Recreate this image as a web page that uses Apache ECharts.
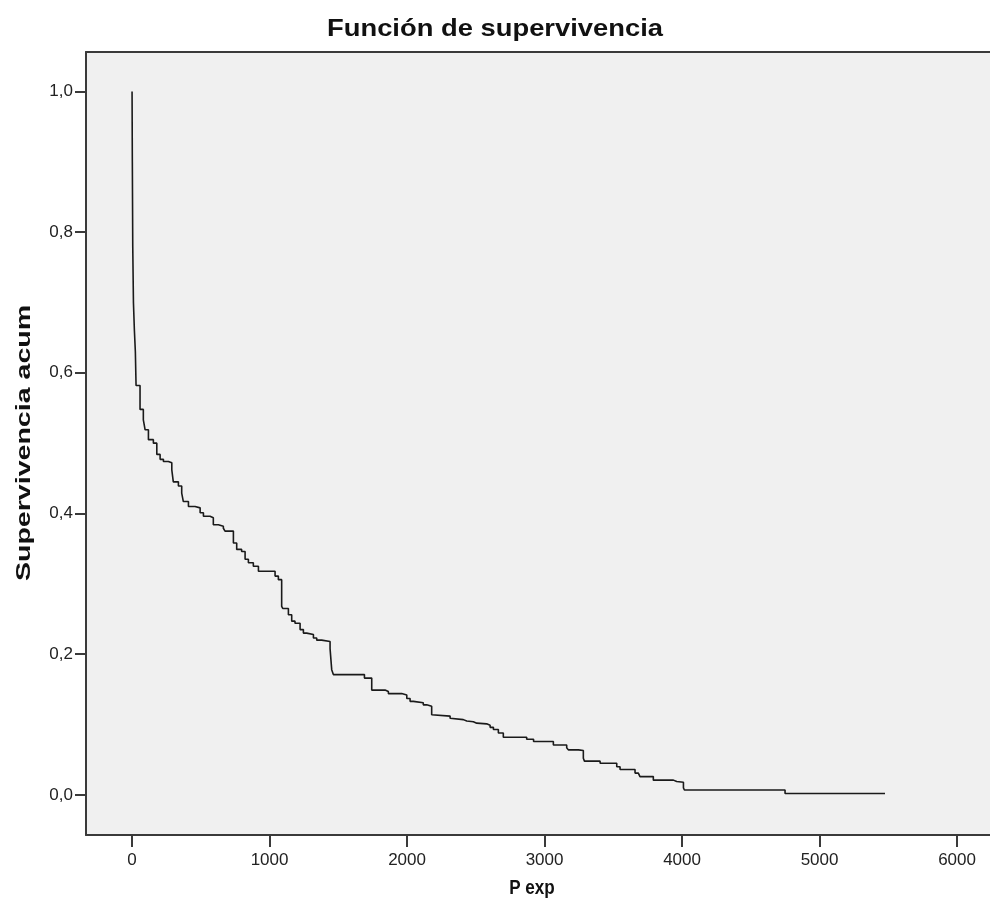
<!DOCTYPE html>
<html>
<head>
<meta charset="utf-8">
<script src="https://cdn.jsdelivr.net/npm/echarts@6/dist/echarts.min.js"></script>
<style>
html,body{margin:0;padding:0;background:#fff;}
#c{width:990px;height:920px;}
</style>
</head>
<body>
<div id="c"></div>
<script>
const titleText = 'Función de supervivencia';
const xName = 'P exp';
const yName = 'Supervivencia acum';
const xTicks = [0, 1000, 2000, 3000, 4000, 5000, 6000];
const yTicks = [0, 0.2, 0.4, 0.6, 0.8, 1.0];
const times = [0, 2, 5, 10, 17, 24, 29, 58, 82, 95, 119, 155, 180, 204, 228, 264, 289, 300, 337, 361, 373, 410, 458, 495, 519, 567, 591, 628, 664, 676, 737, 761, 797, 822, 846, 882, 919, 1040, 1064, 1088, 1096, 1137, 1161, 1185, 1222, 1246, 1270, 1319, 1343, 1379, 1440, 1452, 1464, 1690, 1743, 1840, 1864, 1961, 1998, 2022, 2046, 2118, 2143, 2179, 2191, 2313, 2325, 2409, 2434, 2482, 2507, 2579, 2604, 2628, 2664, 2700, 2870, 2920, 3064, 3161, 3173, 3246, 3282, 3290, 3404, 3525, 3549, 3658, 3682, 3694, 3791, 3937, 3961, 4010, 4017, 4749, 5076, 5476];
const surv = [1.0, 0.90, 0.78, 0.70, 0.66, 0.63, 0.582, 0.548, 0.533, 0.519, 0.505, 0.500, 0.484, 0.477, 0.474, 0.472, 0.462, 0.445, 0.439, 0.429, 0.417, 0.410, 0.408, 0.401, 0.396, 0.394, 0.384, 0.382, 0.379, 0.375, 0.358, 0.349, 0.346, 0.335, 0.330, 0.325, 0.318, 0.311, 0.306, 0.268, 0.265, 0.256, 0.247, 0.244, 0.235, 0.230, 0.228, 0.223, 0.220, 0.218, 0.208, 0.178, 0.171, 0.166, 0.149, 0.147, 0.144, 0.142, 0.137, 0.133, 0.131, 0.128, 0.126, 0.114, 0.112, 0.109, 0.107, 0.105, 0.104, 0.102, 0.101, 0.099, 0.096, 0.093, 0.088, 0.082, 0.079, 0.076, 0.071, 0.067, 0.064, 0.063, 0.052, 0.048, 0.045, 0.040, 0.036, 0.031, 0.029, 0.026, 0.021, 0.019, 0.018, 0.010, 0.007, 0.002, 0.002];

const data = times.map((t, i) => [t, surv[i]]);
const chart = echarts.init(document.getElementById('c'), null, {renderer: 'canvas'});
const fontFam = '"Liberation Sans", Arial, sans-serif';
const gridW = 904;
const xMin = -335;
const xMax = xMin + gridW / 0.1375;
const lineSt = {color: '#3a3a3a', width: 2};
chart.setOption({
  animation: false,
  backgroundColor: '#ffffff',
  graphic: [
    {type: 'text', x: 495, y: 29, scaleX: 1.14, silent: true,
      style: {text: titleText, font: 'bold 24px "Liberation Sans", Arial, sans-serif', fill: '#111', align: 'center', verticalAlign: 'middle'}},
    {type: 'text', x: 24, y: 443, rotation: Math.PI / 2, scaleX: 1.36, silent: true,
      style: {text: yName, font: 'bold 21px "Liberation Sans", Arial, sans-serif', fill: '#111', align: 'center', verticalAlign: 'middle'}},
    {type: 'text', x: 532, y: 889, scaleX: 0.9, scaleY: 1.05, silent: true,
      style: {text: xName, font: 'bold 19px "Liberation Sans", Arial, sans-serif', fill: '#111', align: 'center', verticalAlign: 'middle'}}
  ],
  grid: {
    left: 86, top: 52, right: 0, height: 783,
    show: true, backgroundColor: '#f0f0f0', borderWidth: 0,
    containLabel: false
  },
  xAxis: [{
    type: 'value', min: xMin, max: xMax, position: 'bottom',
    splitLine: {show: false},
    axisLine: {show: true, onZero: false, lineStyle: lineSt},
    axisTick: {show: true, length: 12, lineStyle: lineSt, customValues: xTicks},
    axisLabel: {customValues: xTicks, fontFamily: fontFam, fontSize: 17, color: '#222', margin: 17,
      formatter: v => String(Math.round(v))}
  }, {
    type: 'value', min: xMin, max: xMax, position: 'top',
    splitLine: {show: false},
    axisLine: {show: true, onZero: false, lineStyle: lineSt},
    axisTick: {show: false}, axisLabel: {show: false}
  }],
  yAxis: {
    type: 'value', min: -0.057, max: 1.056,
    splitLine: {show: false},
    axisLine: {show: true, onZero: false, lineStyle: lineSt},
    axisTick: {show: true, length: 11, lineStyle: lineSt, customValues: yTicks},
    axisLabel: {customValues: yTicks, fontFamily: fontFam, fontSize: 17, color: '#222', margin: 13,
      formatter: v => v.toFixed(1).replace('.', ',')}
  },
  series: [{
    type: 'line', data: data, step: 'end', showSymbol: false, symbol: 'none', xAxisIndex: 0,
    lineStyle: {color: '#1a1a1a', width: 1.6}
  }]
});
</script>
</body>
</html>
